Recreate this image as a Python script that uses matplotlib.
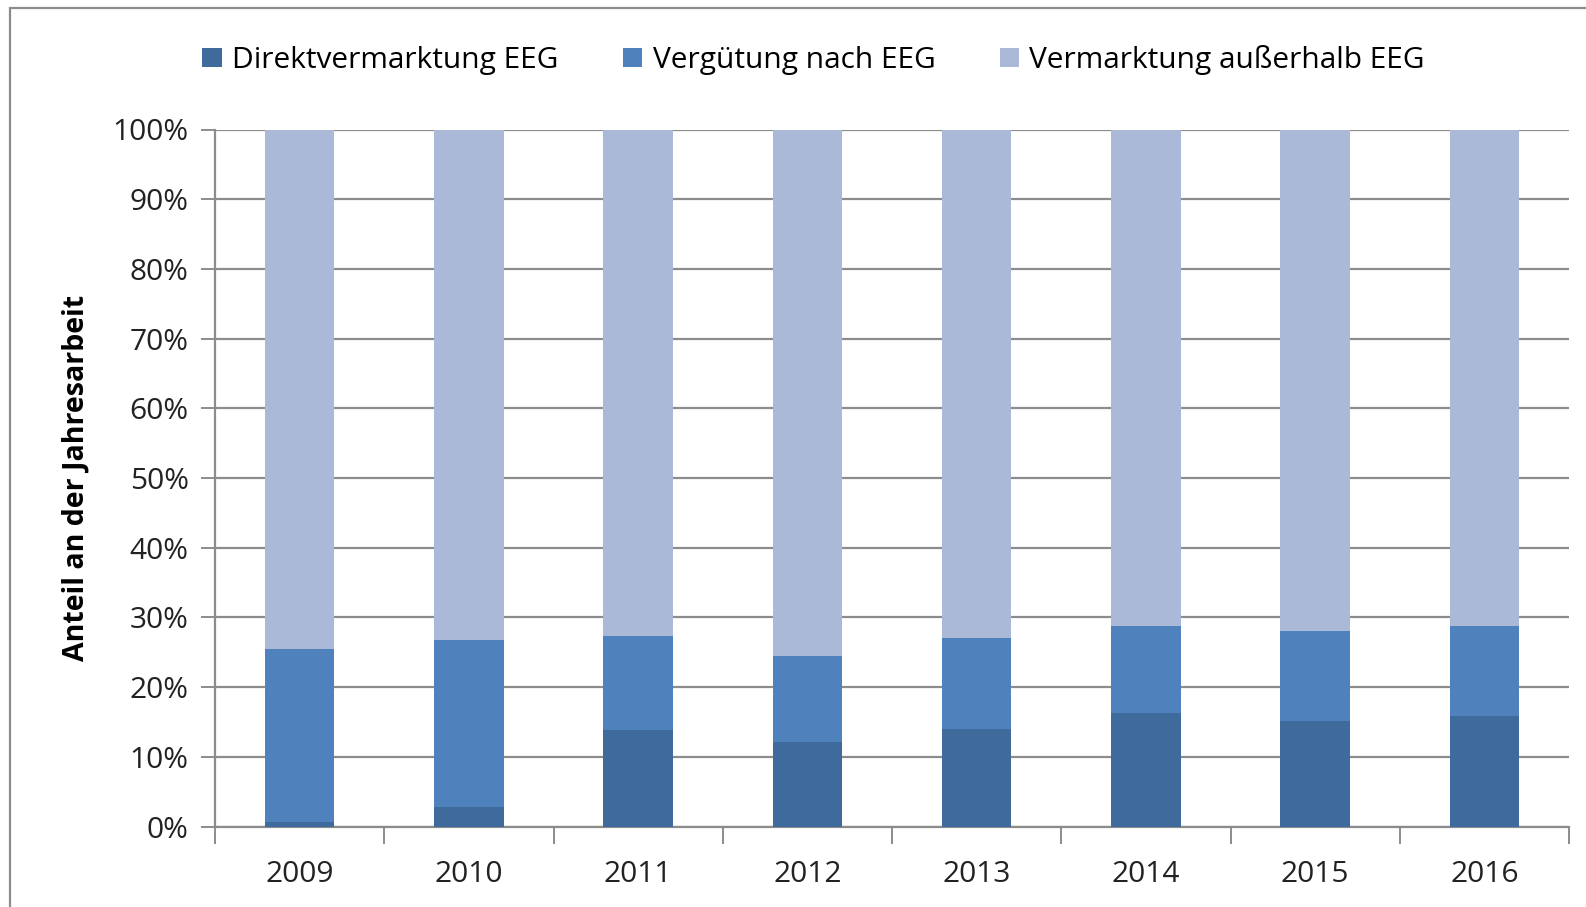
import numpy as np
import matplotlib
matplotlib.use('Agg')
import matplotlib.pyplot as plt
from matplotlib.patches import Rectangle
from matplotlib.ticker import FixedLocator, NullFormatter

# data (share of annual work, %)
years = ['2009', '2010', '2011', '2012', '2013', '2014', '2015', '2016']
direkt = [0.7, 2.8, 13.8, 12.1, 14.0, 16.3, 15.2, 15.9]
verguetung_top = [25.4, 26.8, 27.3, 24.5, 27.1, 28.7, 28.0, 28.7]
series_names = ['Direktvermarktung EEG', 'Vergütung nach EEG', 'Vermarktung außerhalb EEG']

verguetung = [t - d for t, d in zip(verguetung_top, direkt)]
ausserhalb = [100 - t for t in verguetung_top]

colors = ['#3F6A9C', '#4F81BD', '#A9B9D7']
grid_col = '#8C8C8C'

plt.rcParams['font.family'] = ['Open Sans', 'DejaVu Sans']

fig = plt.figure(figsize=(15.86, 9.07), dpi=100)
ax = fig.add_axes([215 / 1586, 1 - 826.5 / 907, (1569 - 215) / 1586, (826.5 - 129.5) / 907])

x = np.arange(len(years))
w = 0.41
ax.bar(x, direkt, w, color=colors[0], label=series_names[0], zorder=3)
ax.bar(x, verguetung, w, bottom=direkt, color=colors[1], label=series_names[1], zorder=3)
ax.bar(x, ausserhalb, w, bottom=verguetung_top, color=colors[2], label=series_names[2], zorder=3)

ax.set_xlim(-0.5, len(years) - 0.5)
ax.set_ylim(0, 100)
ax.set_yticks(np.arange(0, 101, 10))
ax.set_yticklabels([f'{v}%' for v in range(0, 101, 10)], fontsize=21.5, color='#222222')
ax.yaxis.grid(True, color=grid_col, linewidth=1.6, zorder=0)
ax.tick_params(axis='y', length=10, width=1.4, color=grid_col, pad=9)

# categories between the boundary ticks
ax.xaxis.set_major_locator(FixedLocator(np.arange(-0.5, len(years), 1)))
ax.xaxis.set_major_formatter(NullFormatter())
ax.xaxis.set_minor_locator(FixedLocator(x))
ax.set_xticklabels(years, minor=True, fontsize=21.5, color='#222222')
ax.tick_params(axis='x', which='major', length=12, width=1.4, color=grid_col)
ax.tick_params(axis='x', which='minor', length=0, pad=24)

for s in ['top', 'right']:
    ax.spines[s].set_visible(False)
for s in ['left', 'bottom']:
    ax.spines[s].set_color(grid_col)
    ax.spines[s].set_linewidth(1.6)

ax.set_ylabel('Anteil an der Jahresarbeit', fontsize=20.5, fontweight='bold')
ax.yaxis.set_label_coords(-0.092, 0.5)

leg = fig.legend(loc='center', bbox_to_anchor=(0.513, 1 - 60 / 907), ncol=3, frameon=False,
                 fontsize=21.5, handlelength=0.65, handleheight=0.65, handletextpad=0.35,
                 columnspacing=2.15)

# outer chart frame
fig.patches.append(Rectangle((10 / 1586, -0.1), 1.2, 1 - 8 / 907 + 0.1, transform=fig.transFigure,
                             fill=False, edgecolor='#8C8C8C', linewidth=1.6))

fig.savefig('out.png', dpi=100)
